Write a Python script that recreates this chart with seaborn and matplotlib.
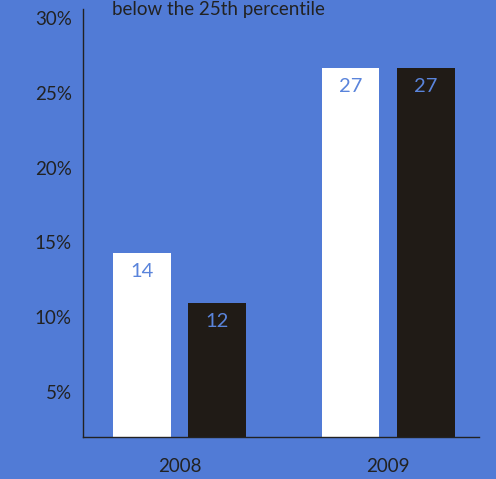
import matplotlib
matplotlib.use("Agg")
import matplotlib.pyplot as plt
import seaborn as sns
import pandas as pd

# values
years = ["2008", "2008", "2009", "2009"]
groups = ["A", "B", "A", "B"]
values = [14.28, 10.94, 26.63, 26.63]
labels = ["14", "12", "27", "27"]
yticks = [5, 10, 15, 20, 25, 30]

BG = "#517BD6"
DARK = "#201B16"
TEXT = "#222222"

df = pd.DataFrame({"year": years, "group": groups, "value": values})

sns.set_theme(style="white")
plt.rcParams["font.family"] = ["Lato", "DejaVu Sans"]

fig = plt.figure(figsize=(4.96, 4.79), dpi=100, facecolor=BG)
ax = fig.add_axes([0.1673, 0.0877, 0.7984, 0.8933])
ax.set_facecolor(BG)

sns.barplot(data=df, x="year", y="value", hue="group",
            palette=["white", DARK], width=0.72, gap=0.23,
            legend=False, ax=ax, saturation=1, linewidth=0)

ax.set_ylim(2, 30.6)
ax.set_xlim(-0.463, 1.436)
ax.set_yticks(yticks)
ax.set_yticklabels([f"{t}%" for t in yticks])
ax.set_xlabel("")
ax.set_ylabel("")

for side in ["top", "right"]:
    ax.spines[side].set_visible(False)
for side in ["left", "bottom"]:
    ax.spines[side].set_color(TEXT)
    ax.spines[side].set_linewidth(1)

ax.tick_params(axis="y", length=0, pad=8, labelsize=13.5, labelcolor=TEXT)
ax.tick_params(axis="x", length=0, pad=15, labelsize=13.5, labelcolor=TEXT)

# value labels inside the bars
bars = sorted(ax.patches, key=lambda p: p.get_x())
for bar, lab in zip(bars, labels):
    ax.annotate(lab, (bar.get_x() + bar.get_width() / 2, bar.get_height()),
                xytext=(0, -13), textcoords="offset points",
                ha="center", va="center", color="#5A84DB", fontsize=14.5)

fig.text(0.226, 0.968, "below the 25th percentile", ha="left", va="baseline",
         fontsize=13.5, color=TEXT)

fig.savefig("out.png", dpi=100, facecolor=BG)
